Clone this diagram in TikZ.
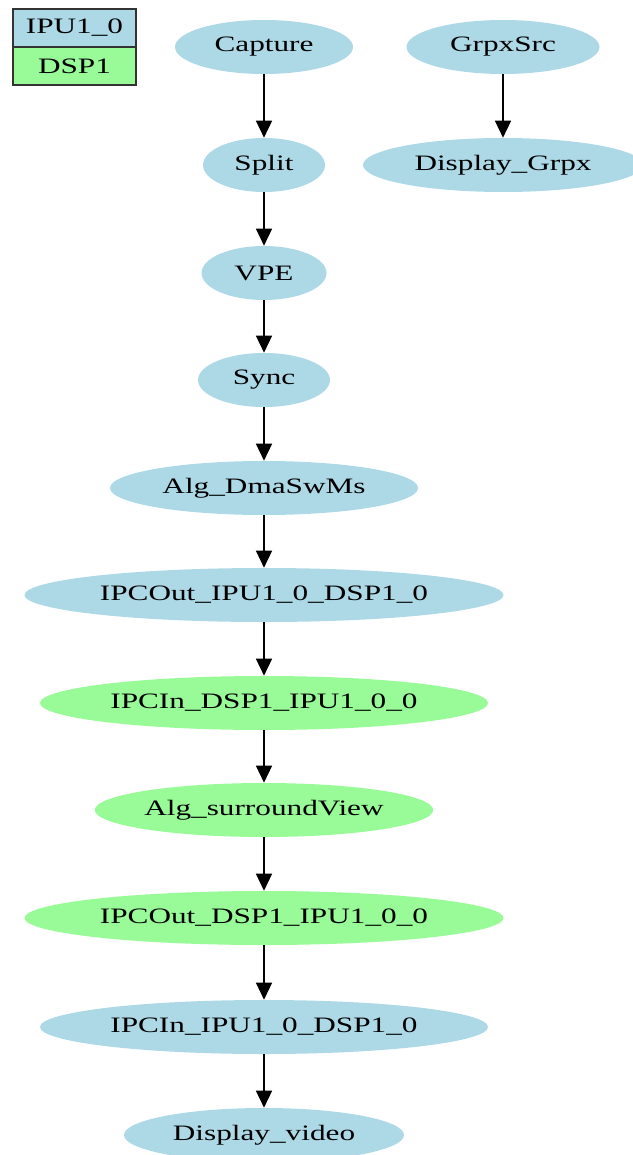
\documentclass[tikz,border=0pt]{standalone}
\usepackage{fontspec}
\setmainfont{Liberation Serif}[FakeStretch=1.42]
\usetikzlibrary{arrows.meta,shapes.geometric}
\definecolor{lightblue}{HTML}{ADD8E6}
\definecolor{palegreen}{HTML}{98FB98}

\begin{document}
\begin{tikzpicture}[x=1pt,y=-1pt,semithick,
    font=\fontsize{22}{25}\selectfont,
    ipu/.style={ellipse,fill=lightblue,inner sep=0pt,minimum height=54pt},
    dsp/.style={ipu,fill=palegreen},
    key/.style={rectangle,draw=black!80,line width=1.5pt,inner sep=0pt,
      minimum width=123pt,minimum height=38pt},
    link/.style={-{Triangle[length=17pt,width=16pt]},line width=1.4pt}]
    \useasboundingbox (0,0) rectangle (632,1155);

    % legend
    \node[key,fill=lightblue] (kipu) at (74.5,28) {IPU1\_0};
    \node[key,fill=palegreen] (kdsp) at (74.5,66) {DSP1};

    % main chain
    \node[ipu,minimum width=178pt] (capture)  at (264,47)   {Capture};
    \node[ipu,minimum width=122pt] (split)    at (264,165)  {Split};
    \node[ipu,minimum width=125pt] (vpe)      at (264,273)  {VPE};
    \node[ipu,minimum width=132pt] (sync)     at (264,380)  {Sync};
    \node[ipu,minimum width=308pt] (dmaswms)  at (264,488)  {Alg\_DmaSwMs};
    \node[ipu,minimum width=479pt] (ipcouta)  at (264,595)  {IPCOut\_IPU1\_0\_DSP1\_0};
    \node[dsp,minimum width=448pt] (ipcina)   at (264,703)  {IPCIn\_DSP1\_IPU1\_0\_0};
    \node[dsp,minimum width=312pt] (surround) at (264,810)  {Alg\_surroundView};
    \node[dsp,minimum width=479pt] (ipcoutb)  at (264,918)  {IPCOut\_DSP1\_IPU1\_0\_0};
    \node[ipu,minimum width=448pt] (ipcinb)   at (264,1027) {IPCIn\_IPU1\_0\_DSP1\_0};
    \node[ipu,minimum width=280pt] (dispvid)  at (264,1135) {Display\_video};

    % graphics chain
    \node[ipu,minimum width=193pt] (grpxsrc)  at (503,47)   {GrpxSrc};
    \node[ipu,minimum width=280pt] (dispgrpx) at (503,165)  {Display\_Grpx};

    \draw[link] (capture) -- (split);
    \draw[link] (split) -- (vpe);
    \draw[link] (vpe) -- (sync);
    \draw[link] (sync) -- (dmaswms);
    \draw[link] (dmaswms) -- (ipcouta);
    \draw[link] (ipcouta) -- (ipcina);
    \draw[link] (ipcina) -- (surround);
    \draw[link] (surround) -- (ipcoutb);
    \draw[link] (ipcoutb) -- (ipcinb);
    \draw[link] (ipcinb) -- (dispvid);
    \draw[link] (grpxsrc) -- (dispgrpx);
  \end{tikzpicture}
\end{document}
